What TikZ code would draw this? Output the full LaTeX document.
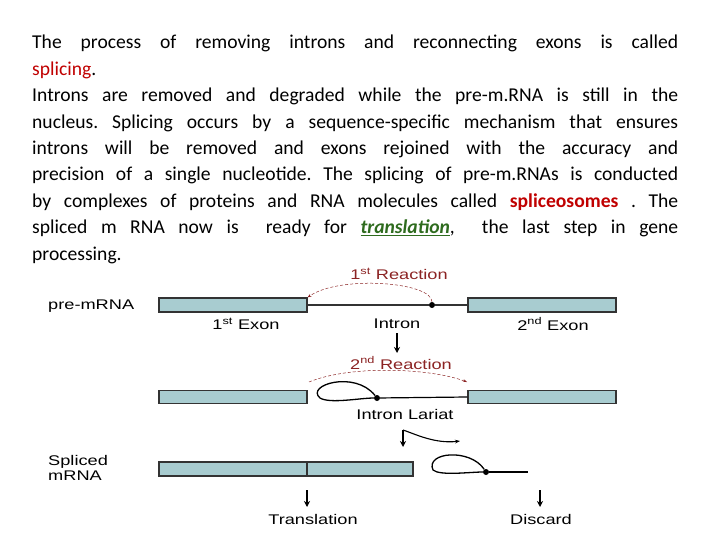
\documentclass[tikz,border=0pt]{standalone}
\usepackage{fontspec}
\setmainfont{Carlito}
\newfontfamily\arialf[FakeStretch=1.3]{Liberation Sans}
\usetikzlibrary{arrows.meta}
\definecolor{barfill}{HTML}{A8CCD0}
\definecolor{rxn}{HTML}{8B2323}
\definecolor{splred}{HTML}{C00000}
\definecolor{trgreen}{HTML}{2E6B1E}
\tikzset{
  bar/.style={draw=black!80,line width=1.2pt,fill=barfill},
  lbl/.style={font=\arialf\fontsize{14}{15.5}\selectfont,inner sep=0pt},
  rlbl/.style={lbl,text=rxn},
  down/.style={-{Stealth[length=6pt,width=6pt]},line width=1.2pt},
  rarc/.style={densely dashed,draw=rxn,line width=0.5pt,-{Stealth[length=4pt]}},
  dot/.style={circle,fill=black,inner sep=0pt,minimum size=6pt}
}
\begin{document}
\frenchspacing
\begin{tikzpicture}[x=1pt,y=-1pt]
\useasboundingbox (0,0) rectangle (720,540);
\node[anchor=north west,inner sep=0pt,text width=646pt,align=justify,font=\fontsize{19.6}{26.4}\selectfont] (para) at (32,35)
{The process of removing introns and reconnecting exons is called\linebreak {\color{splred}splicing}.\\
Introns are removed and degraded while the pre-m.RNA is still in the\linebreak nucleus. Splicing occurs by a sequence-specific mechanism that ensures\linebreak introns will be removed and exons rejoined with the accuracy and\linebreak precision of a single nucleotide. The splicing of pre-m.RNAs is conducted\linebreak by complexes of proteins and RNA molecules called {\color{splred}\bfseries spliceosomes} . The\linebreak spliced m RNA now is \ ready for {\color{trgreen}\bfseries\itshape\underline{translation}}, \ the last step in gene\linebreak processing.};
% row 1
\node[bar,minimum width=148pt,minimum height=14pt,inner sep=0pt] (e1) at (233,305) {};
\node[bar,minimum width=148pt,minimum height=14pt,inner sep=0pt] (e2) at (542,305) {};
\node[dot] (bp) at (432,305) {};
\draw[line width=1.2pt,black!80] (e1.east) -- (bp) -- (e2.west);
\node[lbl,anchor=west] (pre) at (48,306) {pre-mRNA};
\node[lbl] (x1) at (246,324) {1\textsuperscript{st} Exon};
\node[lbl] (in) at (397,324) {Intron};
\node[lbl] (x2) at (553,324) {2\textsuperscript{nd} Exon};
\node[rlbl] (r1) at (399,274) {1\textsuperscript{st} Reaction};
\draw[rarc] (bp.north) .. controls (432,282) and (340,275) .. (e1.north east);
\coordinate (a1s) at (397,333);
\coordinate (a1e) at (397,353);
\draw[down] (a1s) -- (a1e);
% row 2
\node[rlbl] (r2) at (401,363) {2\textsuperscript{nd} Reaction};
\node[bar,minimum width=148pt,minimum height=13pt,inner sep=0pt] (f1) at (233,397) {};
\node[bar,minimum width=148pt,minimum height=13pt,inner sep=0pt] (f2) at (542,397) {};
\coordinate (r2s) at (309,382);
\coordinate (r2e) at (467,382);
\draw[rarc] (r2s) .. controls (350,365) and (430,368) .. (r2e);
\node[dot] (bp2) at (377,398) {};
\draw[line width=1.3pt] (bp2) .. controls (355,370) and (305,385) .. (320,398) .. controls (330,404) and (360,398) .. (bp2);
\draw[line width=1.2pt] (bp2) -- (f2.west);
\node[lbl] (lar) at (405,414) {Intron Lariat};
\coordinate (a2s) at (403,430);
\coordinate (a2e) at (403,447);
\draw[down] (a2s) -- (a2e);
\coordinate (a3e) at (460,441);
\draw[-{Stealth[length=5pt]},line width=1.1pt] (a2s) .. controls (415,434) and (435,444) .. (a3e);
% row 3
\node[lbl,anchor=north west,align=left] (spl) at (48,455) {Spliced\\mRNA};
\node[bar,minimum width=254pt,minimum height=14pt,inner sep=0pt] (m) at (286,469) {};
\coordinate (dvt) at (307,462);
\coordinate (dvb) at (307,476);
\draw[line width=1.2pt,black!80] (dvt) -- (dvb);
\node[dot] (bp3) at (486,472) {};
\draw[line width=1.3pt] (bp3) .. controls (470,448) and (425,452) .. (433,470) .. controls (440,476) and (470,472) .. (bp3);
\coordinate (tail) at (528,472);
\draw[line width=1.2pt] (bp3) -- (tail);
\coordinate (t1) at (307,490);
\coordinate (t2) at (307,507);
\draw[down] (t1) -- (t2);
\coordinate (d1) at (540,490);
\coordinate (d2) at (540,507);
\draw[down] (d1) -- (d2);
\node[lbl] (tr) at (313,519) {Translation};
\node[lbl] (dc) at (541,519) {Discard};
\end{tikzpicture}
\end{document}
